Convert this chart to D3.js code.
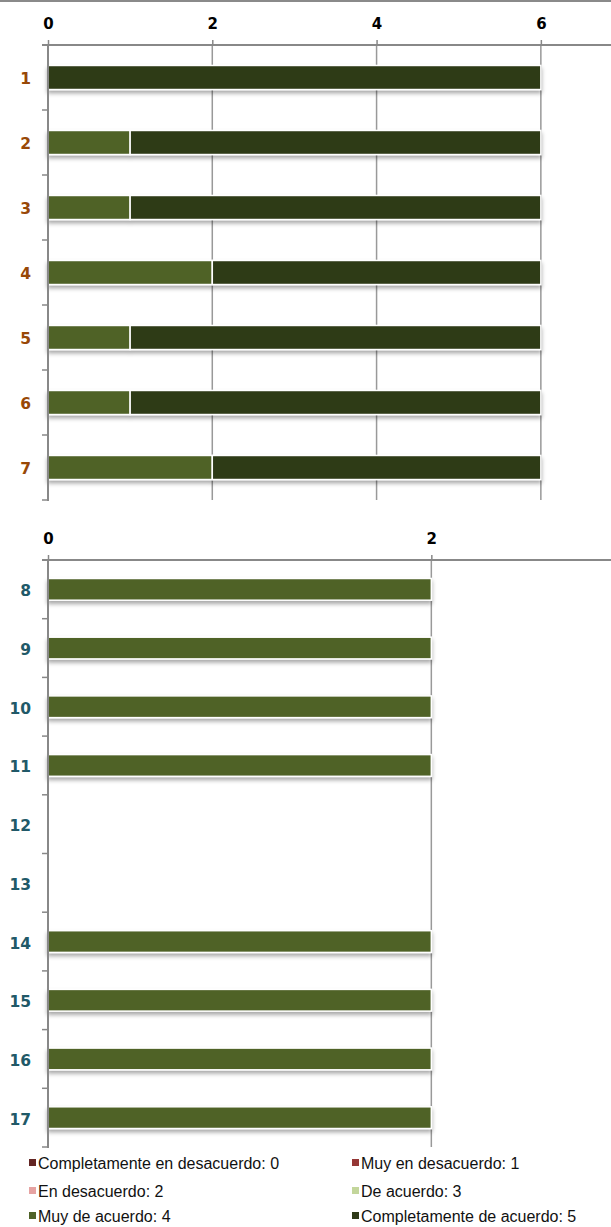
<!DOCTYPE html>
<html>
<head>
<meta charset="utf-8">
<script src="https://cdn.jsdelivr.net/npm/d3@7"></script>
<style>
  html, body { margin: 0; padding: 0; background: #fff; }
  svg { display: block; }
</style>
</head>
<body>
<svg id="chart" width="611" height="1227"></svg>
<script>
// ---- Data ----
const seriesNames = [
  "Completamente en desacuerdo: 0",
  "Muy en desacuerdo: 1",
  "En desacuerdo: 2",
  "De acuerdo: 3",
  "Muy de acuerdo: 4",
  "Completamente de acuerdo: 5"
];
const seriesColors = ["#632523", "#953735", "#e6a3a2", "#c3d69b", "#4f6228", "#2f3a18"];

// Chart 1: items 1-7
const items1 = ["1", "2", "3", "4", "5", "6", "7"];
const top_s0 = [0, 0, 0, 0, 0, 0, 0];
const top_s1 = [0, 0, 0, 0, 0, 0, 0];
const top_s2 = [0, 0, 0, 0, 0, 0, 0];
const top_s3 = [0, 0, 0, 0, 0, 0, 0];
const top_s4 = [0, 1, 1, 2, 1, 1, 2];
const top_s5 = [6, 5, 5, 4, 5, 5, 4];
const ticks1 = [0, 2, 4, 6];

// Chart 2: items 8-17
const items2 = ["8", "9", "10", "11", "12", "13", "14", "15", "16", "17"];
const bot_s0 = [0, 0, 0, 0, 0, 0, 0, 0, 0, 0];
const bot_s1 = [0, 0, 0, 0, 0, 0, 0, 0, 0, 0];
const bot_s2 = [0, 0, 0, 0, 0, 0, 0, 0, 0, 0];
const bot_s3 = [0, 0, 0, 0, 0, 0, 0, 0, 0, 0];
const bot_s4 = [2, 2, 2, 2, 0, 0, 2, 2, 2, 2];
const bot_s5 = [0, 0, 0, 0, 0, 0, 0, 0, 0, 0];
const ticks2 = [0, 2];

// ---- Drawing ----
const svg = d3.select("#chart");
const defs = svg.append("defs");
const f = defs.append("filter").attr("id", "shadow")
  .attr("x", "-5%").attr("y", "-30%").attr("width", "110%").attr("height", "180%");
f.append("feDropShadow").attr("dx", 0).attr("dy", 3).attr("stdDeviation", 2)
  .attr("flood-color", "#000").attr("flood-opacity", 0.35);

// top border line
svg.append("line").attr("x1", 0).attr("x2", 611).attr("y1", 1).attr("y2", 1)
  .attr("stroke", "#8a8a8a").attr("stroke-width", 2);

function drawChart(cats, series, xMax, tickVals, yTop, yBottom, labelColor) {
  const g = svg.append("g");
  const x = d3.scaleLinear().domain([0, xMax]).range([48, 623]);
  const y = d3.scaleBand().domain(cats).range([yTop, yBottom]).padding(0);
  const barH = y.step() * 0.37;

  // gridlines
  g.selectAll(".grid").data(tickVals.filter(t => t > 0)).join("line")
    .attr("x1", d => x(d)).attr("x2", d => x(d))
    .attr("y1", yTop).attr("y2", yBottom)
    .attr("stroke", "#999").attr("stroke-width", 1.5);

  // stacked bars
  const rows = cats.map((c, i) => {
    const o = { cat: c };
    seriesNames.forEach((s, k) => o[s] = series[k][i]);
    return o;
  });
  const stacked = d3.stack().keys(seriesNames)(rows);
  const rowG = g.selectAll(".row").data(cats).join("g").attr("filter", "url(#shadow)");
  rowG.each(function(cat, i) {
    const segs = stacked.map((layer, k) => ({ x0: layer[i][0], x1: layer[i][1], k }))
      .filter(d => d.x1 - d.x0 > 0);
    d3.select(this).selectAll("rect").data(segs).join("rect")
      .attr("x", d => x(d.x0))
      .attr("width", d => x(d.x1) - x(d.x0))
      .attr("y", y(cat) + (y.bandwidth() - barH) / 2)
      .attr("height", barH)
      .attr("fill", d => seriesColors[d.k])
      .attr("stroke", "#fff").attr("stroke-width", 1.5);
  });

  // top axis
  const xAxis = d3.axisTop(x).tickValues(tickVals).tickSize(5).tickPadding(11).tickFormat(d3.format("d"));
  const ax = g.append("g").attr("transform", `translate(0,${yTop})`).call(xAxis);
  ax.select(".domain").remove();
  ax.selectAll(".tick line").attr("stroke", "#888").attr("stroke-width", 1.5);
  ax.selectAll(".tick text").attr("fill", "#000")
    .style("font-family", "DejaVu Sans").style("font-weight", "bold").style("font-size", "15px");
  g.append("line").attr("x1", 42).attr("x2", 611).attr("y1", yTop).attr("y2", yTop)
    .attr("stroke", "#888").attr("stroke-width", 2);

  // left axis
  const yAxis = d3.axisLeft(y).tickSize(0).tickPadding(17);
  const ay = g.append("g").attr("transform", "translate(48,0)").call(yAxis);
  ay.select(".domain").remove();
  ay.selectAll(".tick text").attr("fill", labelColor).attr("dy", "0.45em")
    .style("font-family", "DejaVu Sans").style("font-weight", "bold").style("font-size", "15.5px");
  // category boundary ticks
  const bounds = cats.map(c => y(c) + y.step());
  g.selectAll(".ctick").data(bounds).join("line")
    .attr("x1", 42).attr("x2", 48).attr("y1", d => d).attr("y2", d => d)
    .attr("stroke", "#888").attr("stroke-width", 1.5);
  g.append("line").attr("x1", 48).attr("x2", 48).attr("y1", yTop - 1).attr("y2", yBottom + 1)
    .attr("stroke", "#888").attr("stroke-width", 2);
}

drawChart(items1, [top_s0, top_s1, top_s2, top_s3, top_s4, top_s5], 7, ticks1, 45, 500, "#984807");
drawChart(items2, [bot_s0, bot_s1, bot_s2, bot_s3, bot_s4, bot_s5], 3, ticks2, 560, 1147, "#215968");

// legend
const legendPos = [
  [29, 1163], [352, 1163],
  [29, 1191], [352, 1191],
  [29, 1216], [352, 1216]
];
const lg = svg.append("g");
seriesNames.forEach((name, i) => {
  const [lx, ly] = legendPos[i];
  lg.append("rect").attr("x", lx).attr("y", ly - 4).attr("width", 7).attr("height", 7)
    .attr("fill", seriesColors[i]);
  lg.append("text").attr("x", lx + 9).attr("y", ly).attr("dy", "0.35em")
    .style("font-family", "Liberation Sans, Arial, sans-serif").style("font-size", "16px")
    .attr("fill", "#111").text(name);
});
</script>
</body>
</html>
